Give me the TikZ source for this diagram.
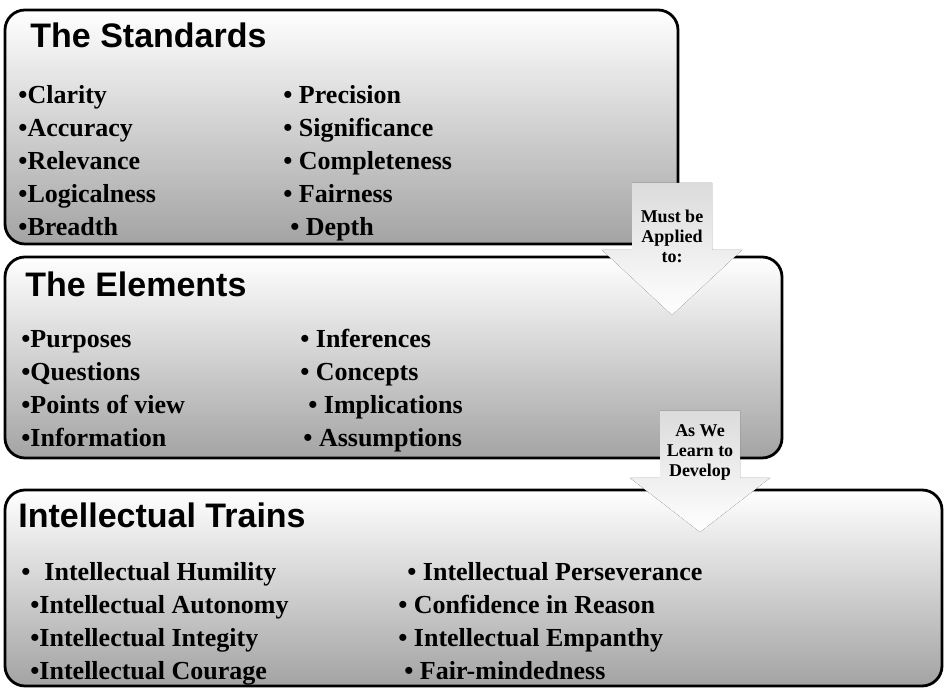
\documentclass[tikz,border=0pt]{standalone}
\usepackage{fontspec}
\setmainfont{Liberation Serif}
\newfontfamily\headfont{Liberation Sans}
\usetikzlibrary{matrix}

\begin{document}
\begin{tikzpicture}[x=0.5pt,y=-0.5pt,
  panel/.style={draw=black,line width=1.4pt,rounded corners=10pt,
    top color=white,middle color=black!5,bottom color=black!36},
  blockarrow/.style={top color=black!14,bottom color=white},
  heading/.style={anchor=base west,inner sep=0pt,
    font=\headfont\bfseries\fontsize{17}{20}\selectfont},
  itemlist/.style={matrix of nodes,anchor=north west,inner sep=0pt,
    column 1/.style={anchor=base west},
    nodes={inner sep=0pt,text height=11.5pt,text depth=5pt,
      font=\bfseries\fontsize{13}{15}\selectfont}},
  arrowtext/.style={align=center,inner sep=0pt,
    font=\bfseries\fontsize{9}{10}\selectfont}]

  \useasboundingbox (0,0) rectangle (944,688);

  \draw [panel] (5,10) rectangle (678,244);
  \draw [panel] (5,257) rectangle (782,458);
  \draw [panel] (5,490) rectangle (942,686);

  % down arrows between the panels
  \fill [blockarrow] (632,183) -- (712,183) -- (712,250) -- (742,250)
    -- (672,315) -- (602,250) -- (632,250) -- cycle;
  \fill [blockarrow] (660,411) -- (740,411) -- (740,478) -- (770,478)
    -- (700,532) -- (630,478) -- (660,478) -- cycle;

  \node [arrowtext] (applied) at (672,236) {Must be\\Applied\\to:};
  \node [arrowtext] (develop) at (700,452) {As We\\Learn to\\Develop};

  \node [heading] (stdtitle) at (30,48) {The Standards};

  \matrix (stdL) [itemlist] at (18,80)
          {
            •Clarity \\
            •Accuracy \\
            •Relevance \\
            •Logicalness \\
            •Breadth \\
          };

  \matrix (stdR) [itemlist] at (283,80)
          {
            • Precision \\
            • Significance \\
            • Completeness \\
            • Fairness \\
            \hspace{3.5pt}• Depth \\
          };

  \node [heading] (elemtitle) at (25,297) {The Elements};

  \matrix (elemL) [itemlist] at (21,324)
          {
            •Purposes \\
            •Questions \\
            •Points of view \\
            •Information \\
          };

  \matrix (elemR) [itemlist] at (300,324)
          {
            • Inferences \\
            • Concepts \\
            \hspace{4pt}• Implications \\
            \hspace{1.5pt}• Assumptions \\
          };

  \node [heading] (traittitle) at (18,528) {Intellectual Trains};

  \matrix (traitL) [itemlist] at (21,557)
          {
            •\hspace{7pt}Intellectual Humility \\
            \hspace{4.5pt}•Intellectual Autonomy \\
            \hspace{4.5pt}•Intellectual Integity \\
            \hspace{4.5pt}•Intellectual Courage \\
          };

  \matrix (traitR) [itemlist] at (398,557)
          {
            \hspace{4.5pt}• Intellectual Perseverance \\
            • Confidence in Reason \\
            • Intellectual Empanthy \\
            \hspace{3pt}• Fair-mindedness \\
          };

\end{tikzpicture}
\end{document}
